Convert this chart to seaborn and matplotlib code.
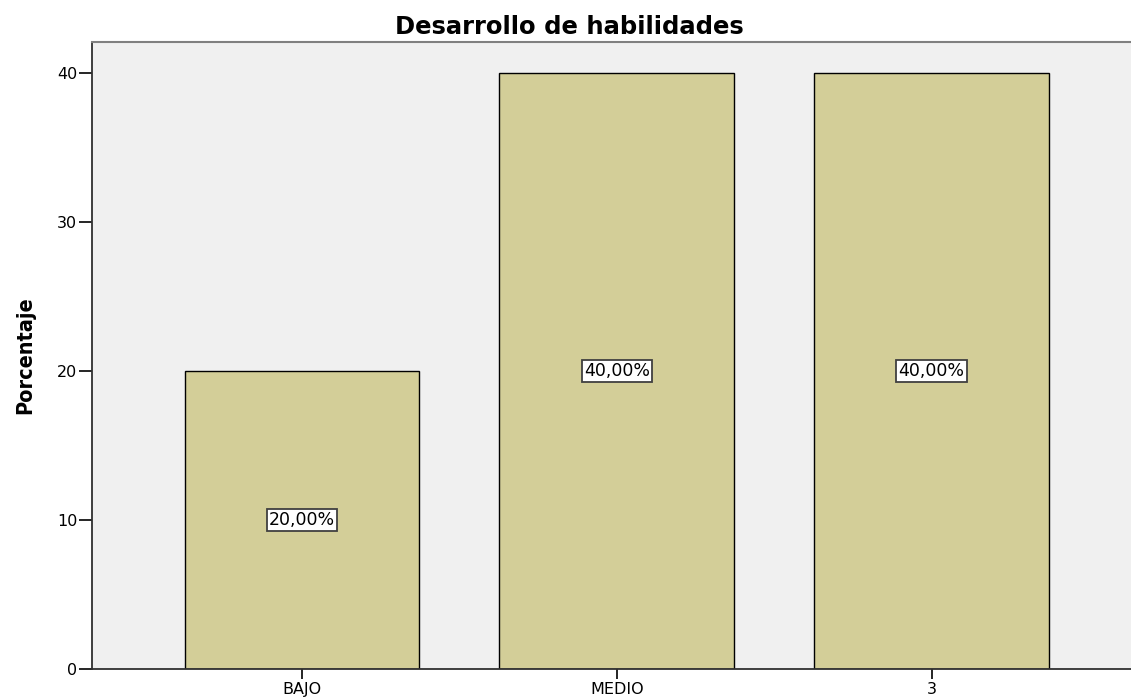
import matplotlib
matplotlib.use("Agg")
import matplotlib.pyplot as plt
import seaborn as sns
import pandas as pd

# data
categorias = ['BAJO', 'MEDIO', '3']
porcentajes = [20.0, 40.0, 40.0]
etiquetas = ['20,00%', '40,00%', '40,00%']

df = pd.DataFrame({'nivel': categorias, 'pct': porcentajes})

sns.set_style("white")
plt.rcParams['font.family'] = ['DejaVu Sans']
plt.rcParams['text.color'] = 'black'
plt.rcParams['axes.labelcolor'] = 'black'

fig = plt.figure(figsize=(11.31, 6.99), dpi=100)
ax = fig.add_axes([0.0813, 0.0429, 0.928, 0.897])
ax.set_facecolor('#F0F0F0')

sns.barplot(data=df, x='nivel', y='pct', color='#D3CE98', saturation=1,
            width=0.746, edgecolor='black', linewidth=1.0, ax=ax)

# value labels in boxes at half height
for i, (v, lab) in enumerate(zip(porcentajes, etiquetas)):
    ax.text(i, v / 2, lab, ha='center', va='center', fontsize=12.5,
            bbox=dict(boxstyle='square,pad=0.12', facecolor='white',
                      edgecolor='#404040', linewidth=1.3))

ax.set_xlim(-0.667, 2.667)
ax.set_ylim(0, 42.1)
ax.set_yticks([0, 10, 20, 30, 40])
ax.set_xlabel('')
ax.set_ylabel('Porcentaje', fontsize=15.5, fontweight='bold',
              fontstretch='condensed', labelpad=16)
ax.tick_params(axis='both', direction='out', width=1.2,
               labelsize=11.5, colors='black', left=True, bottom=True)
ax.tick_params(axis='y', length=9.5, pad=1)
ax.tick_params(axis='x', length=7, pad=2)

for s in ['left', 'bottom']:
    ax.spines[s].set_color('#303030')
    ax.spines[s].set_linewidth(1.3)
ax.spines['top'].set_color('#808080')
ax.spines['top'].set_linewidth(1.5)
ax.spines['right'].set_visible(False)

fig.text(0.503, 0.962, 'Desarrollo de habilidades', ha='center', va='center',
         fontsize=17.5, fontweight='bold')

fig.savefig('out.png', dpi=100)
